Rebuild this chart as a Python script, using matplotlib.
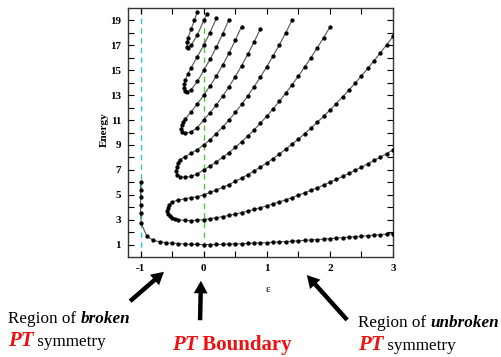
import matplotlib
matplotlib.use("Agg")
import matplotlib.pyplot as plt
from matplotlib.patches import FancyArrowPatch

# ---------------- data ----------------
# ground state
g_eps = [-1.0, -1.0, -1.0, -1.0, -1.0, -0.99, -0.9, -0.8, -0.7, -0.6, -0.5, -0.4, -0.3, -0.2, -0.1,
         0.0, 0.1, 0.2, 0.3, 0.4, 0.5, 0.6, 0.7, 0.8, 0.9, 1.0, 1.1, 1.2, 1.3, 1.4, 1.5, 1.6, 1.7,
         1.8, 1.9, 2.0, 2.1, 2.2, 2.3, 2.4, 2.5, 2.6, 2.7, 2.8, 2.9, 3.0]
g_E = [6.0, 5.4, 4.8, 4.2, 3.5, 2.7, 1.65, 1.35, 1.22, 1.15, 1.10, 1.07, 1.04, 1.02, 1.01,
       1.000, 1.003, 1.010, 1.020, 1.033, 1.048, 1.066, 1.085, 1.107, 1.131, 1.156, 1.183, 1.211,
       1.240, 1.270, 1.301, 1.333, 1.366, 1.400, 1.438, 1.477, 1.515, 1.553, 1.592, 1.632, 1.672,
       1.713, 1.754, 1.796, 1.838, 1.880]

# loop A : levels 1 (lower branch) and 2 (upper branch)
a_eps = [3.0, 2.9, 2.8, 2.7, 2.6, 2.5, 2.4, 2.3, 2.2, 2.1, 2.0, 1.9, 1.8, 1.7, 1.6, 1.5, 1.4, 1.3,
         1.2, 1.1, 1.0, 0.9, 0.8, 0.7, 0.6, 0.5, 0.4, 0.3, 0.2, 0.1, 0.0, -0.1, -0.2, -0.3, -0.4,
         -0.45, -0.5, -0.54, -0.56, -0.575,
         -0.57, -0.55, -0.5, -0.4, -0.3, -0.2, -0.1, 0.0, 0.1, 0.2, 0.3, 0.4, 0.5, 0.6, 0.7, 0.8,
         0.9, 1.0, 1.1, 1.2, 1.3, 1.4, 1.5, 1.6, 1.7, 1.8, 1.9, 2.0, 2.1, 2.2, 2.3, 2.4, 2.5, 2.6,
         2.7, 2.8, 2.9, 3.0]
a_E = [8.600, 8.311, 8.028, 7.752, 7.482, 7.219, 6.962, 6.712, 6.469, 6.232, 6.003, 5.781, 5.565,
       5.357, 5.156, 4.963, 4.777, 4.599, 4.428, 4.265, 4.109, 3.961, 3.822, 3.690, 3.567, 3.451,
       3.344, 3.245, 3.155, 3.073, 3.000, 2.95, 2.93, 2.94, 2.99, 3.05, 3.15, 3.30, 3.45, 3.70,
       3.95, 4.20, 4.42, 4.58, 4.68, 4.77, 4.84, 5.000, 5.181, 5.378, 5.592, 5.823, 6.071, 6.336,
       6.617, 6.915, 7.230, 7.562, 7.910, 8.276, 8.658, 9.057, 9.472, 9.905, 10.354, 10.820,
       11.302, 11.802, 12.318, 12.851, 13.401, 13.968, 14.551, 15.151, 15.768, 16.402, 17.053,
       17.720]

# loop B : levels 3 and 4
b_eps = [2.0, 1.9, 1.8, 1.7, 1.6, 1.5, 1.4, 1.3, 1.2, 1.1, 1.0, 0.9, 0.8, 0.7, 0.6, 0.5, 0.4, 0.3,
         0.2, 0.1, 0.0, -0.1, -0.2, -0.3, -0.38, -0.42, -0.435,
         -0.43, -0.41, -0.38, -0.3, -0.2, -0.1, 0.0, 0.1, 0.2, 0.3, 0.4, 0.5, 0.6, 0.7, 0.8, 0.9,
         1.0, 1.1, 1.2, 1.3, 1.4]
b_E = [18.459, 17.617, 16.804, 16.018, 15.261, 14.533, 13.832, 13.160, 12.517, 11.901, 11.314,
       10.755, 10.225, 9.723, 9.249, 8.803, 8.386, 7.997, 7.636, 7.304, 7.000, 6.68, 6.47, 6.40,
       6.46, 6.62, 6.90,
       7.20, 7.55, 7.80, 8.05, 8.33, 8.63, 9.000, 9.436, 9.916, 10.438, 11.002, 11.610, 12.260,
       12.954, 13.690, 14.468, 15.290, 16.154, 17.062, 18.012, 19.004]

# loop C : levels 5 and 6
c_eps = [0.9, 0.8, 0.7, 0.6, 0.5, 0.4, 0.3, 0.2, 0.1, 0.0, -0.1, -0.2, -0.3, -0.34, -0.355,
         -0.35, -0.33, -0.3, -0.2, -0.1, 0.0, 0.1, 0.2, 0.3, 0.4, 0.5, 0.6]
c_E = [18.340, 17.288, 16.296, 15.362, 14.488, 13.672, 12.916, 12.218, 11.580, 11.000, 10.40,
       10.05, 9.92, 10.05, 10.30,
       10.60, 10.85, 11.05, 11.65, 12.30, 13.000, 13.728, 14.532, 15.412, 16.368, 17.400, 18.508]

# loop D : levels 7 and 8
d_eps = [0.4, 0.3, 0.2, 0.1, 0.0, -0.1, -0.2, -0.27, -0.3, -0.31,
         -0.305, -0.29, -0.25, -0.2, -0.1, 0.0, 0.1, 0.2]
d_E = [19.072, 17.913, 16.848, 15.877, 15.000, 14.10, 13.45, 13.25, 13.35, 13.60,
       13.90, 14.25, 14.70, 15.20, 16.10, 17.000, 18.026, 19.164]

# loop E : levels 9 and 10
e_eps = [0.05, 0.0, -0.1, -0.2, -0.25, -0.265,
         -0.26, -0.25, -0.2, -0.15, -0.1]
e_E = [19.55, 19.00, 17.85, 17.00, 16.75, 16.90,
       17.30, 17.60, 18.30, 19.00, 19.70]

curves = [(g_eps, g_E), (a_eps, a_E), (b_eps, b_E), (c_eps, c_E), (d_eps, d_E), (e_eps, e_E)]

x_ticks_major = [-1, 0, 1, 2, 3]
y_tick_labels = [1, 3, 5, 7, 9, 11, 13, 15, 17, 19]

# ---------------- figure ----------------
W, H = 502, 357
fig = plt.figure(figsize=(W / 100, H / 100), dpi=100)
serif = ["Liberation Serif", "DejaVu Serif"]

def fx(px):
    return px / W

def fy(py):
    return 1 - py / H

ax = fig.add_axes([fx(128), fy(257), (393 - 128) / W, (257 - 8) / H])
ax.set_xlim(-1.2, 3.0)
ax.set_ylim(0, 20)

ax.axvline(-1, color="#33c6cc", lw=1.0, ls=(0, (4, 3)), zorder=1)
ax.axvline(0, color="#5cc444", lw=1.0, ls=(0, (4, 3)), zorder=1)

for xs, ys in curves:
    ax.plot(xs, ys, color="#555555", lw=0.8, zorder=2, clip_on=True)
    ax.plot(xs, ys, ls="none", marker="o", ms=2.1, mfc="black", mec="black", zorder=3,
            clip_on=True)

xt = [-1, -0.5, 0, 0.5, 1, 1.5, 2, 2.5, 3]
ax.set_xticks(xt)
ax.set_xticklabels(["" if v not in x_ticks_major else ("-1" if v < 0 else str(int(v)))
                    for v in xt])
ax.set_yticks(list(range(1, 20)))
ax.set_yticklabels([str(v) if v in y_tick_labels else "" for v in range(1, 20)])
ax.tick_params(direction="in", length=4, width=0.8, top=True, right=True, pad=5,
               labelsize=8)
for lab in ax.get_xticklabels() + ax.get_yticklabels():
    lab.set_fontfamily(serif)
    lab.set_fontweight("bold")
for s in ax.spines.values():
    s.set_linewidth(1.0)
    s.set_color("#333333")

fig.text(fx(268), fy(290), "ε", family=serif, fontsize=8, ha="center", va="center")
fig.text(fx(104), fy(130), "Energy", family=serif, fontsize=8, fontweight="bold",
         rotation=90, ha="center", va="center")

# ---------------- annotations ----------------
fig.canvas.draw()
renderer = fig.canvas.get_renderer()

def runs(x_px, y_px, parts):
    x = x_px
    for s, kw in parts:
        t = fig.text(fx(x), fy(y_px), s, family=serif, va="baseline", ha="left", **kw)
        bb = t.get_window_extent(renderer)
        x += bb.width

black = dict(fontsize=12.3, color="black")
black_bi = dict(fontsize=12.3, color="black", fontweight="bold", fontstyle="italic")
red = dict(fontsize=15, color="#ee1111", fontweight="bold", fontstyle="italic")
red_b = dict(fontsize=15, color="#ee1111", fontweight="bold")

runs(8, 323, [("Region of ", black), ("broken", black_bi)])
runs(8, 346, [("PT", red), (" symmetry", black)])

runs(172, 350, [("PT", red), (" Boundary", red_b)])

runs(358, 327, [("Region of ", black), ("unbroken", black_bi)])
runs(358, 350, [("PT", red), (" symmetry", black)])

def arrow(x0, y0, x1, y1):
    a = FancyArrowPatch((fx(x0), fy(y0)), (fx(x1), fy(y1)), transform=fig.transFigure,
                        arrowstyle="simple,tail_width=0.32,head_width=1.0,head_length=0.9",
                        mutation_scale=10, color="black", lw=0)
    fig.patches.append(a)

arrow(128, 303, 166, 270)
arrow(200, 323, 201, 278)
arrow(349, 322, 305, 273)

fig.savefig("out.png", dpi=100)
